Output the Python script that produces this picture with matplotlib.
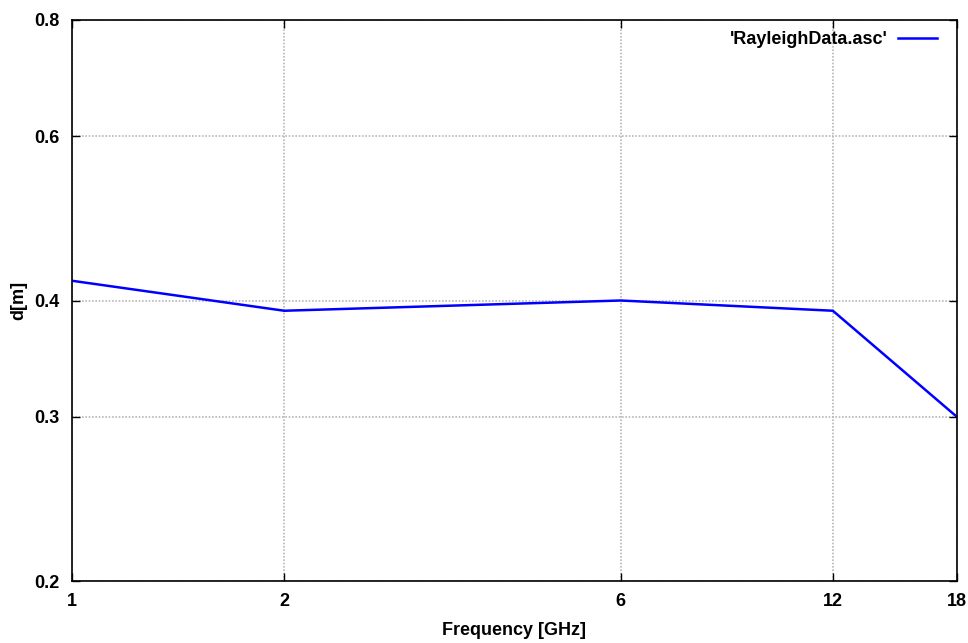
import matplotlib
matplotlib.use("Agg")
import matplotlib.pyplot as plt
from matplotlib.ticker import FixedLocator, NullLocator

plt.rcParams['font.family'] = ['Liberation Sans', 'DejaVu Sans']
plt.rcParams['font.weight'] = 'bold'

freq = [1, 2, 6, 12, 18]
dist = [0.42, 0.39, 0.40, 0.39, 0.30]
x_ticks = [1, 2, 6, 12, 18]
y_ticks = [0.2, 0.3, 0.4, 0.6, 0.8]

fig = plt.figure(figsize=(9.68, 6.43), dpi=100)
ax = fig.add_axes([72 / 968, 1 - 581 / 643, (957 - 72) / 968, (581 - 20) / 643])

ax.plot(freq, dist, color='#0000ff', lw=1.8, label="'RayleighData.asc'")
ax.set_xscale('log')
ax.set_yscale('log')
ax.set_xlim(1, 18)
ax.set_ylim(0.2, 0.8)

ax.xaxis.set_major_locator(FixedLocator(x_ticks))
ax.yaxis.set_major_locator(FixedLocator(y_ticks))
ax.xaxis.set_minor_locator(NullLocator())
ax.yaxis.set_minor_locator(NullLocator())
ax.set_xticklabels([str(v) for v in x_ticks])
ax.set_yticklabels([f"{v:.1f}" for v in y_ticks])
ax.tick_params(direction='in', length=6, width=1, labelsize=13, pad=9,
               top=True, right=True)

ax.grid(True, color='#b8b8b8', linestyle=(0, (1, 1)), linewidth=1.2)
for s in ax.spines.values():
    s.set_linewidth(1.2)

ax.set_xlabel('Frequency [GHz]', fontsize=13, fontweight='bold', labelpad=8)
ax.set_ylabel('d[m]', fontsize=13, fontweight='bold', labelpad=5)

leg = ax.legend(loc='upper right', bbox_to_anchor=(0.99, 1.0), frameon=False,
                markerfirst=False, fontsize=13, handlelength=2.2,
                borderaxespad=0.2, handletextpad=0.55)

fig.savefig('out.png', dpi=100)
